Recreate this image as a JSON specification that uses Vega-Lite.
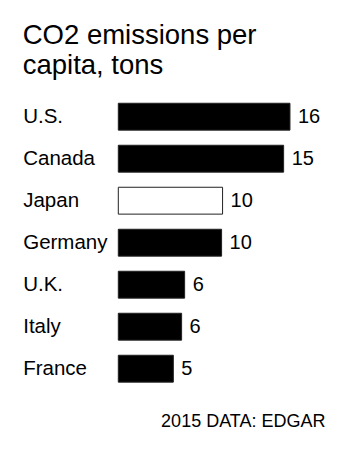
{
  "$schema": "https://vega.github.io/schema/vega-lite/v6.json",
  "autosize": {"type": "none"},
  "padding": {"left": 118.3, "top": 95.7, "right": 19.7, "bottom": 60.3},
  "width": 215,
  "height": 294,
  "background": "white",
  "title": {
    "text": ["CO2 emissions per", "capita, tons"],
    "anchor": "start",
    "frame": "group",
    "dx": -95.6,
    "fontSize": 27.5,
    "fontWeight": "normal",
    "font": "Liberation Sans",
    "color": "#000000",
    "lineHeight": 30,
    "offset": 16
  },
  "config": {
    "view": {"stroke": null},
    "font": "Liberation Sans"
  },
  "data": {
    "values": [
      {"country": "U.S.", "value": 15.97},
      {"country": "Canada", "value": 15.38},
      {"country": "Japan", "value": 9.70},
      {"country": "Germany", "value": 9.61},
      {"country": "U.K.", "value": 6.17},
      {"country": "Italy", "value": 5.89},
      {"country": "France", "value": 5.12}
    ]
  },
  "encoding": {
    "y": {
      "field": "country",
      "type": "nominal",
      "sort": null,
      "scale": {"paddingInner": 0.36, "paddingOuter": 0.18},
      "axis": {
        "title": null,
        "domain": false,
        "ticks": false,
        "labelAlign": "left",
        "labelPadding": 95.6,
        "labelFontSize": 20.5,
        "labelColor": "#000000",
        "labelFont": "Liberation Sans"
      }
    },
    "x": {
      "field": "value",
      "type": "quantitative",
      "scale": {"domain": [0, 20], "nice": false},
      "axis": {
        "title": "2015 DATA: EDGAR",
        "labels": false,
        "ticks": false,
        "domain": false,
        "grid": false,
        "titleFontSize": 18,
        "titleFontWeight": "normal",
        "titleColor": "#000000",
        "titleFont": "Liberation Sans",
        "titleAnchor": "end",
        "titleAlign": "right",
        "titleBaseline": "alphabetic",
        "titleX": 206.7,
        "titleY": 37
      }
    }
  },
  "layer": [
    {
      "mark": {"type": "bar", "stroke": "#222222", "strokeWidth": 1},
      "encoding": {
        "color": {
          "condition": {"test": "datum.country === 'Japan'", "value": "#ffffff"},
          "value": "#000000"
        }
      }
    },
    {
      "mark": {"type": "text", "align": "left", "baseline": "middle", "dx": 8, "fontSize": 20, "color": "#000000"},
      "encoding": {
        "text": {"field": "value", "type": "quantitative", "format": ".0f"}
      }
    }
  ]
}
